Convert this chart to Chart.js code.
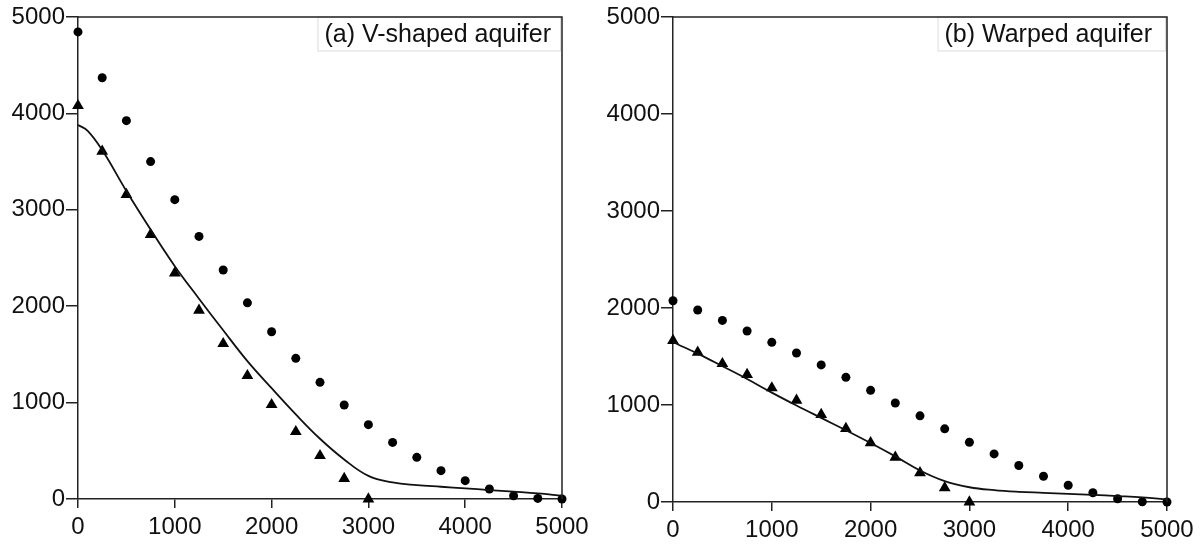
<!DOCTYPE html>
<html>
<head>
<meta charset="utf-8">
<script src="https://cdn.jsdelivr.net/npm/chart.js@4.4.1/dist/chart.umd.min.js"></script>
<style>
  html, body { margin: 0; padding: 0; background: #fff; }
  #wrap { position: relative; width: 1204px; height: 544px; }
  .panel { position: absolute; top: 0; width: 602px; height: 544px; }
</style>
</head>
<body>
<div id="wrap">
  <div class="panel" style="left:0"><canvas id="chartA"></canvas></div>
  <div class="panel" style="left:602px"><canvas id="chartB"></canvas></div>
</div>
<script>
// marker positions (distance)
const markX = [0, 250, 500, 750, 1000, 1250, 1500, 1750, 2000, 2250, 2500, 2750, 3000, 3250, 3500, 3750, 4000, 4250, 4500, 4750, 5000];
const triX = [0, 250, 500, 750, 1000, 1250, 1500, 1750, 2000, 2250, 2500, 2750, 3000];
const curveX = [0, 100, 250, 500, 750, 1000, 1250, 1500, 1750, 2000, 2250, 2500, 2750, 3000, 3250, 3500, 3750, 4000, 4250, 4500, 4750, 5000];

// (a) V-shaped aquifer
const circlesA = [4845, 4370, 3925, 3500, 3105, 2724, 2375, 2035, 1735, 1459, 1210, 975, 771, 587, 432, 294, 190, 104, 34, 6, 0];
const trianglesA = [4080, 3606, 3157, 2742, 2344, 1957, 1611, 1279, 978, 698, 449, 211, 0];
const curveA = [3880, 3820, 3620, 3195, 2795, 2415, 2078, 1750, 1430, 1150, 878, 625, 410, 240, 172, 144, 127, 110, 93, 76, 58, 34];

// (b) Warped aquifer
const circlesB = [2075, 1979, 1872, 1763, 1646, 1536, 1413, 1285, 1151, 1021, 888, 754, 616, 496, 376, 266, 173, 95, 33, 2, 0];
const trianglesB = [1665, 1543, 1426, 1313, 1176, 1048, 901, 757, 610, 461, 301, 146, 0];
const curveB = [1650, 1600, 1530, 1400, 1268, 1128, 995, 867, 740, 608, 470, 325, 215, 152, 122, 105, 95, 84, 74, 61, 47, 28];

const axisTicks = [0, 1000, 2000, 3000, 4000, 5000];

const FONT = 'Liberation Sans, Arial, sans-serif';
const INK = '#222';

function pairs(xs, ys) {
  return ys.map((y, i) => ({ x: xs[i], y: y }));
}

const framePlugin = {
  id: 'frame',
  beforeDatasetsDraw(chart, args, opts) {
    const { ctx, chartArea: a } = chart;
    ctx.save();
    ctx.font = '25px ' + FONT;
    const w = ctx.measureText(opts.text).width;
    const textRight = a.right - opts.gap;
    const boxLeft = textRight - w - 7;
    ctx.fillStyle = '#fff';
    ctx.fillRect(boxLeft, a.top, a.right - 2 - boxLeft, 34);
    ctx.strokeStyle = '#dcdcdc';
    ctx.lineWidth = 1;
    ctx.strokeRect(boxLeft + 0.5, a.top, a.right - 2 - boxLeft, 34);
    ctx.fillStyle = '#111';
    ctx.textBaseline = 'alphabetic';
    ctx.fillText(opts.text, textRight - w, a.top + 25);
    ctx.restore();
  },
  afterDatasetsDraw(chart) {
    const { ctx, chartArea: a } = chart;
    ctx.save();
    ctx.strokeStyle = INK;
    ctx.lineWidth = 1.5;
    ctx.beginPath();
    ctx.moveTo(a.left, a.top);
    ctx.lineTo(a.right, a.top);
    ctx.lineTo(a.right, a.bottom);
    ctx.stroke();
    ctx.restore();
  }
};

function makeChart(id, circles, triangles, curve, label, dims) {
  const ctx = document.getElementById(id).getContext('2d');
  return new Chart(ctx, {
    type: 'scatter',
    data: {
      datasets: [
        {
          type: 'line',
          data: pairs(curveX, curve),
          borderColor: '#111',
          borderWidth: 1.8,
          pointRadius: 0,
          tension: 0.4,
          fill: false,
          clip: false
        },
        {
          data: pairs(markX, circles),
          pointStyle: 'circle',
          pointRadius: 4.5,
          backgroundColor: '#000',
          borderWidth: 0,
          clip: false
        },
        {
          data: pairs(triX, triangles),
          pointStyle: 'triangle',
          pointRadius: 6.8,
          backgroundColor: '#000',
          borderColor: '#000',
          borderWidth: 0,
          clip: false
        }
      ]
    },
    options: {
      responsive: true,
      maintainAspectRatio: false,
      animation: false,
      layout: { padding: { top: 17, right: dims.right, left: 0, bottom: 0 } },
      plugins: {
        legend: { display: false },
        tooltip: { enabled: false },
        frame: { text: label, gap: dims.gap }
      },
      scales: {
        x: {
          type: 'linear',
          min: 0,
          max: 5000,
          afterBuildTicks: s => { s.ticks = axisTicks.map(v => ({ value: v })); },
          afterFit: s => { s.height = dims.xh; },
          ticks: { font: { size: 24, family: FONT }, color: '#111', padding: 5, maxRotation: 0, autoSkip: false, callback: v => String(v) },
          grid: { drawOnChartArea: false, tickLength: 9, color: INK, lineWidth: 1.5 },
          border: { color: INK, width: 1.5 }
        },
        y: {
          type: 'linear',
          min: 0,
          max: 5000,
          afterBuildTicks: s => { s.ticks = axisTicks.map(v => ({ value: v })); },
          afterFit: s => { s.width = dims.yw; },
          ticks: { font: { size: 24, family: FONT }, color: '#111', padding: 1, autoSkip: false, callback: v => String(v) },
          grid: { drawOnChartArea: false, tickLength: 12, color: INK, lineWidth: 1.5 },
          border: { color: INK, width: 1.5 }
        }
      }
    },
    plugins: [framePlugin]
  });
}

makeChart('chartA', circlesA, trianglesA, curveA, '(a) V-shaped aquifer', { yw: 78, xh: 45, right: 40, gap: 11 });
makeChart('chartB', circlesB, trianglesB, curveB, '(b) Warped aquifer', { yw: 71, xh: 42, right: 37, gap: 15 });
</script>
</body>
</html>
